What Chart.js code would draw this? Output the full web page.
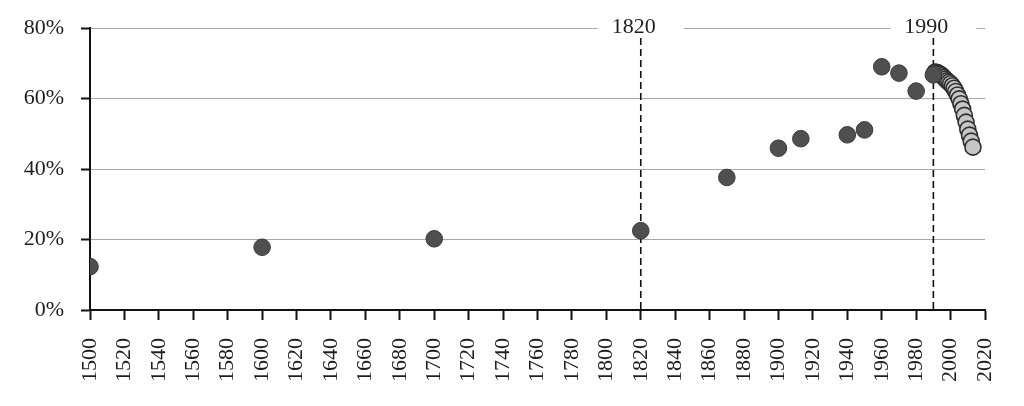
<!DOCTYPE html>
<html>
<head>
<meta charset="utf-8">
<script src="https://cdn.jsdelivr.net/npm/chart.js@4.4.1/dist/chart.umd.min.js"></script>
<style>
  html, body { margin: 0; padding: 0; background: #ffffff; }
  #wrap { width: 1024px; height: 406px; position: relative; }
</style>
</head>
<body>
<div id="wrap"><canvas id="c" width="1024" height="406"></canvas></div>
<script>
// ---- data ----
const histYears  = [1500, 1600, 1700, 1820, 1870, 1900, 1913, 1940, 1950, 1960, 1970, 1980, 1990];
const histValues = [12.3, 17.8, 20.2, 22.5, 37.6, 45.9, 48.6, 49.7, 51.1, 69.0, 67.2, 62.1, 66.7];

const recentYears  = [1991, 1992, 1993, 1994, 1995, 1996, 1997, 1998, 1999, 2000, 2001, 2002,
                      2003, 2004, 2005, 2006, 2007, 2008, 2009, 2010, 2011, 2012, 2013];
const recentValues = [67.5, 67.4, 67.2, 66.9, 66.5, 66.0, 65.5, 65.0, 64.6, 64.2, 63.6, 62.9,
                      62.0, 61.0, 59.9, 58.5, 57.0, 55.2, 53.3, 51.3, 49.6, 47.9, 46.2];

const xTickValues = [1500, 1520, 1540, 1560, 1580, 1600, 1620, 1640, 1660, 1680, 1700, 1720, 1740,
                     1760, 1780, 1800, 1820, 1840, 1860, 1880, 1900, 1920, 1940, 1960, 1980, 2000, 2020];
const yTickValues = [0, 20, 40, 60, 80];
const yTickLabels = ['0%', '20%', '40%', '60%', '80%'];

const markerYears  = [1820, 1990];
const markerLabels = ['1820', '1990'];

// ---- chart ----
const FONT = "'Liberation Serif', 'DejaVu Serif', serif";

const markerPlugin = {
  id: 'markers',
  beforeDatasetsDraw(chart) {
    const ctx = chart.ctx;
    const xs = chart.scales.x;
    const area = chart.chartArea;
    ctx.save();
    markerYears.forEach((yr, i) => {
      const x = xs.getPixelForValue(yr);
      ctx.fillStyle = '#ffffff';
      ctx.fillRect(x - 43, area.top - 12, 86, 22);
      ctx.fillStyle = '#1e1e1e';
      ctx.font = '22px ' + FONT;
      ctx.textAlign = 'center';
      ctx.textBaseline = 'middle';
      ctx.fillText(markerLabels[i], x - 7, area.top - 1);
      ctx.strokeStyle = '#111111';
      ctx.lineWidth = 1.6;
      ctx.setLineDash([7, 4]);
      ctx.beginPath();
      ctx.moveTo(x, area.top + 10);
      ctx.lineTo(x, area.bottom);
      ctx.stroke();
      ctx.setLineDash([]);
    });
    ctx.restore();
  }
};

const toPoints = (xs, ys) => xs.map((x, i) => ({ x: x, y: ys[i] }));

new Chart(document.getElementById('c'), {
  type: 'scatter',
  data: {
    datasets: [
      {
        data: toPoints(histYears, histValues),
        pointRadius: 8.3,
        pointHoverRadius: 8.3,
        backgroundColor: '#4f4f4f',
        borderColor: '#3a3a3a',
        borderWidth: 1
      },
      {
        data: toPoints(recentYears, recentValues),
        pointRadius: 8,
        pointHoverRadius: 8,
        backgroundColor: '#c6c6c6',
        borderColor: '#2e2e2e',
        borderWidth: 1.6
      }
    ]
  },
  options: {
    responsive: false,
    animation: false,
    devicePixelRatio: 1,
    layout: { padding: { top: 28, right: 39, left: 0, bottom: 0 } },
    plugins: { legend: { display: false }, tooltip: { enabled: false } },
    scales: {
      x: {
        type: 'linear',
        min: 1500,
        max: 2020,
        afterBuildTicks(scale) { scale.ticks = xTickValues.map(v => ({ value: v })); },
        afterFit(scale) { scale.height = 96; scale.paddingLeft = 0; scale.paddingRight = 0; },
        border: { display: true, color: '#111111', width: 2 },
        grid: { display: true, drawOnChartArea: false, drawTicks: true, tickLength: 10, tickColor: '#111111', tickWidth: 2 },
        ticks: {
          minRotation: 90,
          maxRotation: 90,
          autoSkip: false,
          padding: 18,
          color: '#1e1e1e',
          font: { family: FONT, size: 22 },
          callback: (v) => String(v)
        }
      },
      y: {
        min: 0,
        max: 80,
        afterBuildTicks(scale) { scale.ticks = yTickValues.map(v => ({ value: v })); },
        afterFit(scale) { scale.width = 90; scale.paddingTop = 0; scale.paddingBottom = 0; },
        border: { display: true, color: '#111111', width: 2 },
        grid: { display: true, drawOnChartArea: true, color: '#a8a8a8', lineWidth: 1, tickLength: 9, tickColor: '#111111', tickWidth: 2 },
        ticks: {
          padding: 17,
          color: '#1e1e1e',
          font: { family: FONT, size: 22 },
          callback: (v) => yTickLabels[yTickValues.indexOf(v)]
        }
      }
    }
  },
  plugins: [markerPlugin]
});
</script>
</body>
</html>
